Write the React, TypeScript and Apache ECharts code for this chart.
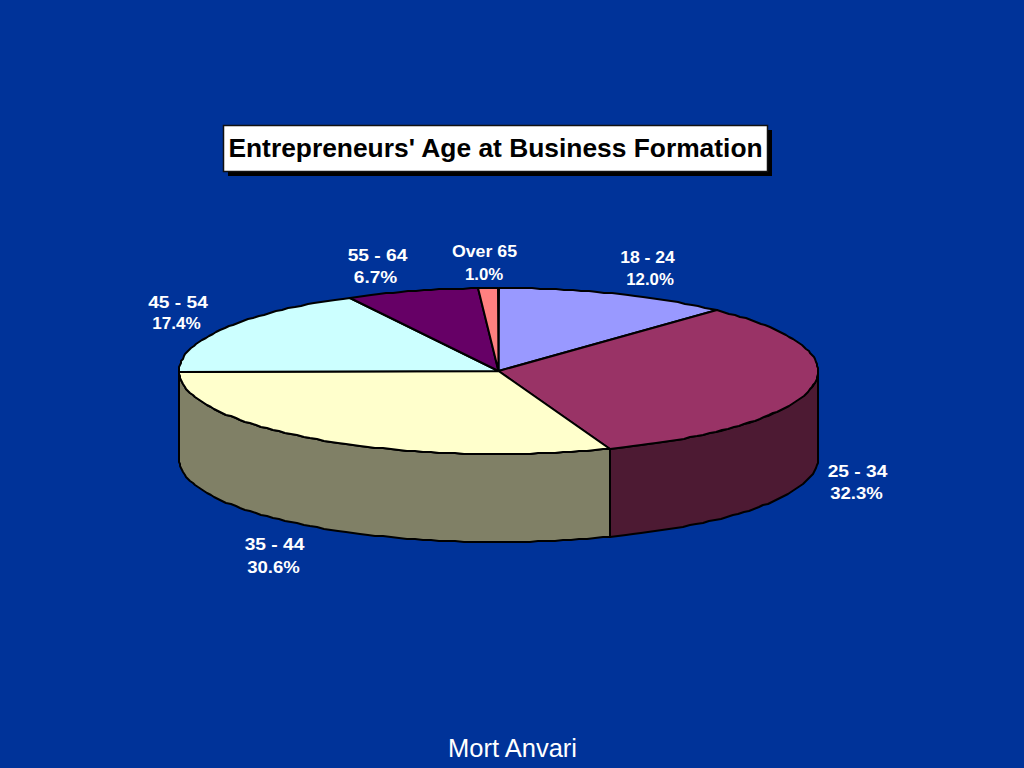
import React, { useEffect, useRef } from "react";
import * as echarts from "echarts";

const titleText = "Entrepreneurs' Age at Business Formation";
const footerText = "Mort Anvari";
const categories = ["18 - 24", "25 - 34", "35 - 44", "45 - 54", "55 - 64", "Over 65"];
const shares = [12.0, 32.3, 30.6, 17.4, 6.7, 1.0];
const topColors = ["#9999FF", "#993366", "#FFFFCC", "#CCFFFF", "#660066", "#FF8080"];
const wallColors = ["#4D4D80", "#4D1A33", "#808066", "#668080", "#330033", "#804040"];

const CX = 498.5;
const CY = 371;
const RX = 319.5;
const RY = 83;
const DEPTH = 88;
const total = shares.reduce((a, b) => a + b, 0);

const rim = (deg: number, dy = 0): [number, number] => {
  const r = (deg * Math.PI) / 180;
  return [Math.round(CX + RX * Math.sin(r)), Math.round(CY - RY * Math.cos(r) + dy)];
};
const arc = (from: number, to: number, dy = 0) => {
  const pts: [number, number][] = [];
  const n = Math.max(2, Math.ceil((to - from) / 1.5));
  for (let i = 0; i <= n; i++) pts.push(rim(from + ((to - from) * i) / n, dy));
  return pts;
};
const sweep = (index: number) => {
  let acc = 0;
  for (let i = 0; i < index; i++) acc += shares[i];
  return [(acc / total) * 360, ((acc + shares[index]) / total) * 360];
};
const edge = { stroke: "#000000", lineWidth: 2, lineJoin: "round" };

const labelOffsets: [number, number, number, number][] = [
  [647.5, 258, 650, 279],
  [857.5, 472, 856.5, 493],
  [274.5, 545, 273.5, 567],
  [178, 303, 176.5, 324],
  [377.5, 256, 375.5, 278],
  [484.5, 252, 484, 274],
];
const nameStretch = [1.1, 1.2, 1.2, 1.2, 1.2, 1.11];
const shareStretch = [1.05, 1.16, 1.16, 1.07, 1.19, 1.05];

export default function App() {
  const ref = useRef<HTMLDivElement>(null);
  useEffect(() => {
    document.body.style.margin = "0";
    document.body.style.background = "#003399";
    const chart = echarts.init(ref.current!, null, { renderer: "svg" });
    const text = (t: string, x: number, y: number, size: number, weight: string, fill: string, scaleX: number) => ({
      type: "text",
      x,
      y,
      scaleX,
      z: 10,
      style: {
        text: t,
        fill,
        font: `${weight} ${size}px "Liberation Sans", Arial, sans-serif`,
        textAlign: "center",
        textVerticalAlign: "middle",
      },
    });
    chart.setOption({
      animation: false,
      backgroundColor: "#003399",
      graphic: [
        { type: "rect", z: 8, shape: { x: 228, y: 130, width: 544, height: 46 }, style: { fill: "#000000" } },
        {
          type: "rect",
          z: 9,
          shape: { x: 223.5, y: 125.5, width: 544, height: 46 },
          style: { fill: "#FFFFFF", stroke: "#111111", lineWidth: 1.5 },
        },
        text(titleText, 495.5, 148, 25, "bold", "#000000", 1.055),
        text(footerText, 512.5, 748, 25, "normal", "#FFFFFF", 1.02),
        ...categories.flatMap((c, i) => {
          const p = labelOffsets[i];
          return [
            text(c, p[0], p[1], 16, "bold", "#FFFFFF", nameStretch[i]),
            text(`${shares[i].toFixed(1)}%`, p[2], p[3], 16, "bold", "#FFFFFF", shareStretch[i]),
          ];
        }),
      ],
      series: [
        {
          type: "custom",
          coordinateSystem: "none",
          silent: true,
          z: 1,
          data: shares.map((v, i) => [i, v]),
          renderItem: (_: any, api: any) => {
            const i = api.value(0) as number;
            const [a, b] = sweep(i);
            const from = Math.max(a, 90);
            const to = Math.min(b, 270);
            if (to <= from) return { type: "group", children: [] };
            const points = [...arc(from, to), ...arc(from, to, DEPTH).reverse()];
            return {
              type: "polygon",
              shape: { points },
              style: { fill: wallColors[i], ...edge },
            };
          },
        },
        {
          type: "custom",
          coordinateSystem: "none",
          silent: true,
          z: 2,
          data: shares.map((v, i) => [i, v]),
          renderItem: (_: any, api: any) => {
            const i = api.value(0) as number;
            const [a, b] = sweep(i);
            return {
              type: "polygon",
              shape: { points: [[CX, CY], ...arc(a, b)] },
              style: { fill: topColors[i], ...edge },
            };
          },
        },
      ],
    });
    return () => chart.dispose();
  }, []);
  return <div ref={ref} style={{ position: "fixed", left: 0, top: 0, width: 1024, height: 768 }} />;
}
